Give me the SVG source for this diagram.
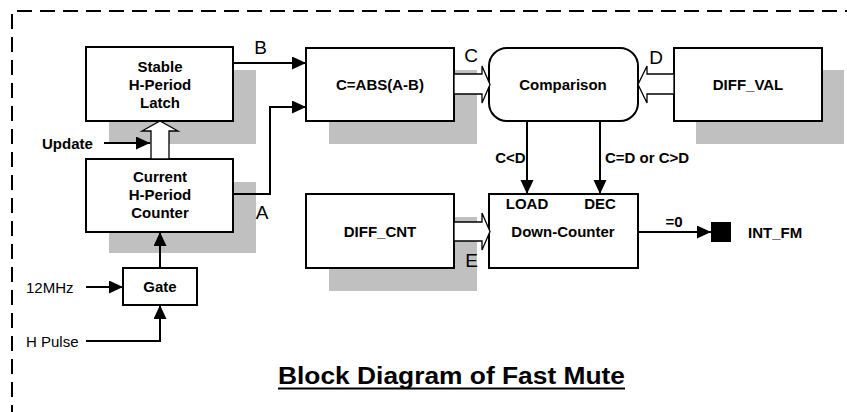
<svg xmlns="http://www.w3.org/2000/svg" width="847" height="412" viewBox="0 0 847 412">
<defs>
<marker id="ah" markerUnits="userSpaceOnUse" markerWidth="15" markerHeight="14" refX="14" refY="6.5" orient="auto"><path d="M0,0 L14,6.5 L0,13 z" fill="#000"/></marker>
<style>
.box{fill:#fff;stroke:#000;stroke-width:2}
.sh{fill:#c0c0c0}
.ln{fill:none;stroke:#000;stroke-width:2}
.hol{fill:#fff;stroke:#000;stroke-width:1.3}
.t{font-family:"Liberation Sans",Arial,sans-serif;font-size:15px;font-weight:bold;fill:#000;text-anchor:middle}
.r{font-family:"Liberation Sans",Arial,sans-serif;font-size:15px;fill:#000}
.lb{font-family:"Liberation Sans",Arial,sans-serif;font-size:19px;fill:#000;text-anchor:middle}
</style>
</defs>
<rect width="847" height="412" fill="#fff"/>
<path d="M12,420 V11 H860" fill="none" stroke="#000" stroke-width="2" stroke-dasharray="15,8"/>

<g id="shadows">
<rect class="sh" x="109" y="70" width="147" height="74"/>
<rect class="sh" x="109" y="182" width="147" height="71"/>
<rect class="sh" x="329" y="70" width="148" height="74"/>
<rect class="sh" x="696" y="70" width="148" height="74"/>
<rect class="sh" x="329" y="217" width="148" height="74"/>
</g>

<g id="latch"><rect class="box" x="86" y="47" width="147" height="74"/>
<text class="t" x="160" y="71.5">Stable</text><text class="t" x="160" y="89.5">H-Period</text><text class="t" x="160" y="107.5">Latch</text></g>
<g id="counter"><rect class="box" x="86" y="159" width="147" height="73"/>
<text class="t" x="160" y="182">Current</text><text class="t" x="160" y="200">H-Period</text><text class="t" x="160" y="218">Counter</text></g>
<g id="gate"><rect class="box" x="123" y="268" width="74" height="37"/><text class="t" x="160" y="291.5">Gate</text></g>
<g id="abs"><rect class="box" x="306" y="48" width="148" height="73"/><text class="t" x="380" y="89.5">C=ABS(A-B)</text></g>
<g id="comparison"><rect class="box" x="489" y="48" width="149" height="73" rx="18"/><text class="t" x="563" y="89.5">Comparison</text></g>
<g id="diffval"><rect class="box" x="674" y="48" width="148" height="73"/><text class="t" x="748" y="89.5">DIFF_VAL</text></g>
<g id="diffcnt"><rect class="box" x="306" y="194" width="148" height="74"/><text class="t" x="380" y="236.5">DIFF_CNT</text></g>
<g id="downcounter"><rect class="box" x="489" y="194" width="149" height="74"/>
<text class="t" x="527" y="209">LOAD</text><text class="t" x="600" y="209">DEC</text><text class="t" x="563" y="236.5">Down-Counter</text></g>
<g id="intfm"><rect x="711" y="222" width="20" height="20" fill="#000"/><text class="t" x="748" y="237.5" style="text-anchor:start">INT_FM</text></g>

<g id="connectors">
<polygon class="hol" points="151,159 151,131 142,131 160,121 178,131 169,131 169,159"/>
<polygon class="hol" points="454,74 482,74 482,66 490,84.5 482,103 482,94 454,94"/>
<polygon class="hol" points="674,74 647,74 647,66 638,84.5 647,103 647,94 674,94"/>
<polygon class="hol" points="454,222 482,222 482,213 490,231.5 482,250 482,241 454,241"/>
<path class="ln" d="M233,63 H306" marker-end="url(#ah)"/>
<path class="ln" d="M233,194 H270 V107 H306" marker-end="url(#ah)"/>
<path class="ln" d="M104,143 H150" marker-end="url(#ah)"/>
<path class="ln" d="M160,268 V232" marker-end="url(#ah)"/>
<path class="ln" d="M86,287 H123" marker-end="url(#ah)"/>
<path class="ln" d="M86,341 H160 V305" marker-end="url(#ah)"/>
<path class="ln" d="M527,121 V194" marker-end="url(#ah)"/>
<path class="ln" d="M600,121 V194" marker-end="url(#ah)"/>
<path class="ln" d="M638,232 H711" marker-end="url(#ah)"/>
</g>

<g id="labels">
<text class="lb" x="260.5" y="54">B</text>
<text class="lb" x="262" y="219">A</text>
<text class="lb" x="471" y="62">C</text>
<text class="lb" x="656" y="64">D</text>
<text class="lb" x="471.5" y="267">E</text>
<text class="t" x="42" y="148.5" style="text-anchor:start">Update</text>
<text class="r" x="26" y="292.5">12MHz</text>
<text class="r" x="26" y="346.5">H Pulse</text>
<text class="t" x="510.5" y="163">C&lt;D</text>
<text class="t" x="605" y="163" style="text-anchor:start">C=D or C&gt;D</text>
<text class="t" x="674" y="227">=0</text>
</g>

<g id="title"><text x="278" y="384" textLength="347" lengthAdjust="spacingAndGlyphs" style="font-family:'Liberation Sans',Arial,sans-serif;font-size:23px;font-weight:bold">Block Diagram of Fast Mute</text>
<line x1="278" y1="388.5" x2="625" y2="388.5" stroke="#000" stroke-width="2"/></g>
</svg>
